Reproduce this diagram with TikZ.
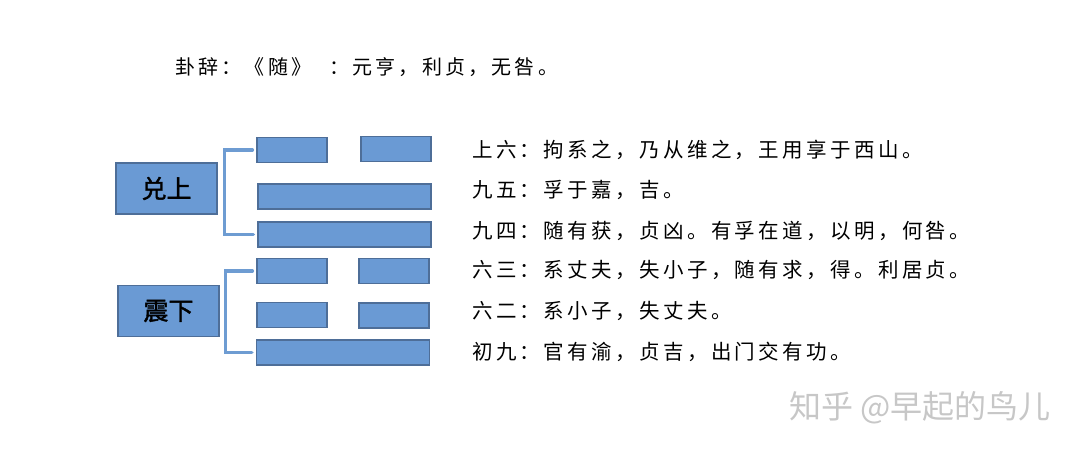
\documentclass[tikz,border=0pt]{standalone}
\usepackage{fontspec}
\usepackage{tikz}
\usetikzlibrary{positioning,calc}

\setmainfont{Noto Sans CJK SC}
\newfontfamily\yaofont{Noto Sans CJK SC}[LetterSpace=16.5]
\newfontfamily\titlefont{Noto Sans CJK SC}[LetterSpace=16]
\newfontfamily\labelfont{Noto Sans CJK SC}[FakeBold=1.6]

\definecolor{barfill}{RGB}{106,154,212}
\definecolor{barline}{RGB}{78,110,152}
\definecolor{bracketc}{RGB}{110,156,210}

\tikzset{
    bar/.style={draw=barline, fill=barfill, line width=1.3pt, inner sep=0pt, minimum height=25pt},
    half/.style={bar, minimum width=70pt},
    full/.style={bar, minimum width=173pt},
    trigram/.style={bar, minimum width=101pt, minimum height=51pt, font=\fontsize{25pt}{25pt}\labelfont},
    bracket/.style={draw=bracketc, line width=3.5pt, line cap=round},
    yao/.style={anchor=west, inner sep=0pt, font=\fontsize{20.5pt}{20.5pt}\yaofont}
}

\begin{document}
\begin{tikzpicture}[x=1pt, y=-1pt]

    \useasboundingbox (0,0) rectangle (1078,453);

    \node (title) [anchor=west, inner sep=0pt, font=\fontsize{20pt}{20pt}\titlefont] at (175,67) {卦辞：《随》\hspace{18pt}：元亨，利贞，无咎。};

    % upper trigram
    \node (dui) [trigram] at (166.5,188.5) {兑上};
    \node (L6a) [half] at (292,150) {};
    \node (L6b) [half] at (396,149) {};
    \node (L5) [full] at (344.5,196.5) {};
    \node (L4) [full] at (344.5,234.5) {};

    % lower trigram
    \node (zhen) [trigram] at (168.5,311) {震下};
    \node (L3a) [half] at (292,271) {};
    \node (L3b) [half] at (394,271) {};
    \node (L2a) [half] at (292,315) {};
    \node (L2b) [half] at (394,315.5) {};
    \node (L1) [full] at (343,352.5) {};

    \draw[bracket] ([xshift=-4pt]L6a.west) -- ++(-28,0) |- ([xshift=-4pt]L4.west);
    \draw[bracket] ([xshift=-4pt]L3a.west) -- ++(-27,0) |- ([xshift=-4pt]L1.west);

    % line texts
    \node (T6) [yao] at (472,150) {上六：拘系之，乃从维之，王用享于西山。};
    \node (T5) [yao] at (472,190) {九五：孚于嘉，吉。};
    \node (T4) [yao] at (472,230.5) {九四：随有获，贞凶。有孚在道，以明，何咎。};
    \node (T3) [yao] at (472,270) {六三：系丈夫，失小子，随有求，得。利居贞。};
    \node (T2) [yao] at (472,311) {六二：系小子，失丈夫。};
    \node (T1) [yao] at (472,351.5) {初九：官有渝，贞吉，出门交有功。};

    \node (mark) [anchor=west, inner sep=0pt, text=black!22, font=\fontsize{32pt}{32pt}\selectfont] at (789,408) {知乎 @早起的鸟儿};

\end{tikzpicture}
\end{document}
